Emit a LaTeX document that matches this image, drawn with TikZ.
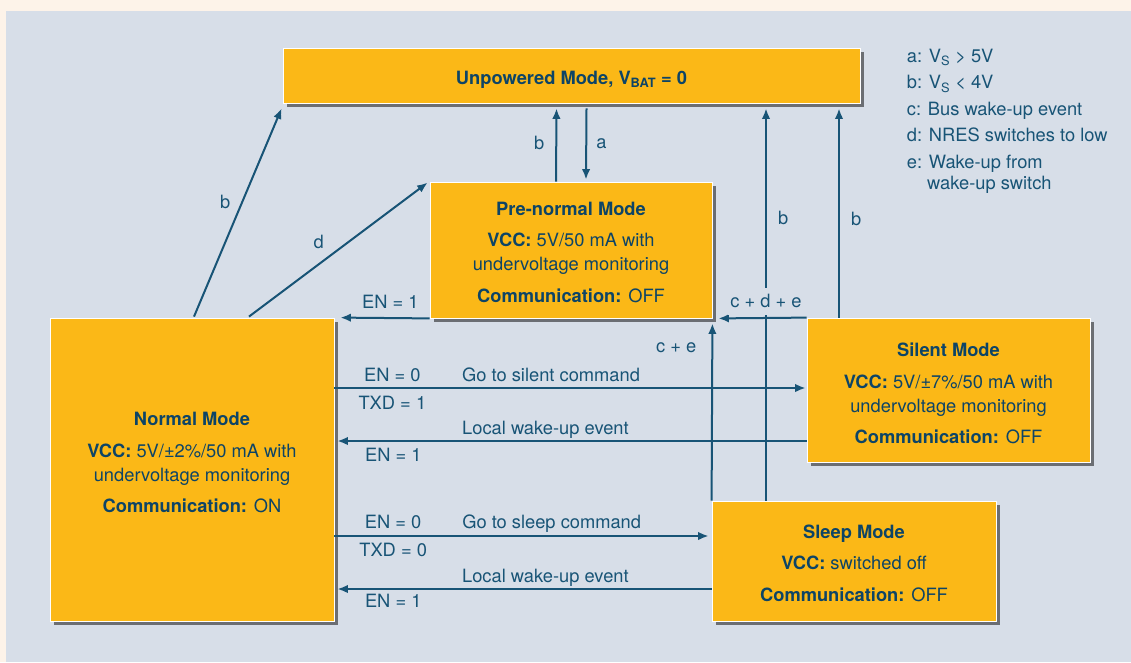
\documentclass[tikz,border=0pt]{standalone}
\usepackage{fontspec}
\setmainfont{TeX Gyre Heros}
\usepackage{xcolor}
\usetikzlibrary{arrows.meta,shadows}
\definecolor{panelGray}{RGB}{215,222,232}
\definecolor{creamBg}{RGB}{253,243,233}
\definecolor{modeOrange}{RGB}{251,184,23}
\definecolor{modeBlue}{RGB}{13,68,102}
\definecolor{lineBlue}{RGB}{24,84,118}

\begin{document}
\begin{tikzpicture}[x=1pt,y=-1pt,>={Latex[length=10.5pt,width=8.5pt]}]
  \tikzstyle{modetext}=[align=center,inner sep=0pt,text=modeBlue,font=\fontsize{18.3}{24}\selectfont]
  \tikzstyle{mode}=[rectangle,fill=modeOrange,draw=white,line width=.8pt,inner sep=0pt,drop shadow={shadow xshift=3.5pt,shadow yshift=-3.5pt,opacity=.5,fill=black}]
  \tikzstyle{trans}=[->,draw=lineBlue,line width=2pt]
  \tikzstyle{lbl}=[inner sep=0pt,text=lineBlue,font=\fontsize{18.3}{22}\selectfont]

  \useasboundingbox (0,0) rectangle (1131,662);
  \fill[creamBg] (0,0) rectangle (1131,662);
  \fill[panelGray] (6,11) rectangle (1131,662);

  % mode boxes
  \node[mode,minimum width=577,minimum height=55] (unpowered) at (571.5,75.5) {};
  \node[mode,minimum width=282,minimum height=136] (prenormal) at (571,250) {};
  \node[mode,minimum width=284,minimum height=303] (normal) at (192,469.5) {};
  \node[mode,minimum width=283,minimum height=144] (silent) at (948.5,390) {};
  \node[mode,minimum width=284,minimum height=120] (sleep) at (854,561) {};

  \node[modetext] (unpoweredtext) at ([shift={(0,4)}]unpowered.center)
    {\textbf{Unpowered Mode, V\textsubscript{BAT} = 0}};
  \node[modetext] (prenormaltext) at ([shift={(0,2)}]prenormal.center)
    {\textbf{Pre-normal Mode}\\[7.5pt]\textbf{VCC:} 5V/50 mA with\\undervoltage monitoring\\[7.5pt]\textbf{Communication:} OFF};
  \node[modetext] (normaltext) at ([shift={(0,-7)}]normal.center)
    {\textbf{Normal Mode}\\[7.5pt]\textbf{VCC:} 5V/±2\%/50 mA with\\undervoltage monitoring\\[7.5pt]\textbf{Communication:} ON};
  \node[modetext] (silenttext) at ([shift={(0,3.5)}]silent.center)
    {\textbf{Silent Mode}\\[7.5pt]\textbf{VCC:} 5V/±7\%/50 mA with\\undervoltage monitoring\\[7.5pt]\textbf{Communication:} OFF};
  \node[modetext] (sleeptext) at ([shift={(0,2)}]sleep.center)
    {\textbf{Sleep Mode}\\[7.5pt]\textbf{VCC:} switched off\\[7.5pt]\textbf{Communication:} OFF};

  % legend
  \node[lbl,anchor=north west,align=left,font=\fontsize{18.3}{21}\selectfont] (legend) at (906.7,48.5)
    {a: V\textsubscript{S} > 5V\\[5.5pt]b: V\textsubscript{S} < 4V\\[5.5pt]c: Bus wake-up event\\[5.5pt]d: NRES switches to low\\[5.5pt]e: Wake-up from\\\hspace*{20.3pt}wake-up switch};

  % power loss and power up
  \draw[trans] ([shift={(2,-1)}]normal.north) -- node[lbl,pos=.55,left=11pt] {b} ([shift={(-1,5)}]unpowered.south west);
  \draw[trans] ([shift={(57,-1)}]normal.north) -- node[lbl,pos=.39,above=15pt] {d} ([shift={(-2,1)}]prenormal.north west);
  \draw[trans] ([shift={(-15,0)}]prenormal.north) -- node[lbl,pos=.53,left=11pt] {b} ([shift={(-15,5)}]unpowered.south);
  \draw[trans] ([shift={(15,5)}]unpowered.south) -- node[lbl,pos=.49,right=9pt] {a} ([shift={(15,-2)}]prenormal.north);
  \draw[trans] ([shift={(-88,0)}]sleep.north) -- node[lbl,pos=.72,right=11pt] {b} ([shift={(194.5,5)}]unpowered.south);
  \draw[trans] ([shift={(-109.5,0)}]silent.north) -- node[lbl,pos=.47,right=11pt] {b} ([shift={(267.5,5)}]unpowered.south);

  % wake-up to pre-normal
  \draw[trans] (prenormal.south west) -- node[lbl,pos=.44,anchor=base,yshift=9.5pt] {EN = 1} ([shift={(6,0)}]normal.north east);
  \draw[trans] (silent.north west) -- node[lbl,pos=.46,anchor=base,yshift=10pt,fill=panelGray,inner ysep=7pt,inner xsep=2pt] {c + d + e} ([shift={(6,0)}]prenormal.south east);
  \draw[trans] (sleep.north west) -- node[lbl,pos=.865,left=15pt] {c + e} ([shift={(0,5)}]prenormal.south east);

  % normal <-> silent
  \coordinate (toSilent) at ([shift={(-1,-2)}]silent.west);
  \coordinate (fromSilent) at ([shift={(0,51)}]silent.west);
  \draw[trans] (normal.east |- toSilent) -- node[lbl,pos=.123,anchor=base,yshift=7pt] {EN = 0}
    node[lbl,pos=.269,anchor=base west,yshift=7pt] {Go to silent command}
    node[lbl,pos=.123,anchor=base,yshift=-21pt] {TXD = 1} (toSilent);
  \draw[trans,shorten >=3pt] (fromSilent) -- node[lbl,pos=.7315,anchor=base west,yshift=7pt] {Local wake-up event}
    node[lbl,pos=.875,anchor=base,yshift=-20pt] {EN = 1} (normal.east |- fromSilent);

  % normal <-> sleep
  \coordinate (toSleep) at ([shift={(-3,-25)}]sleep.west);
  \coordinate (fromSleep) at ([shift={(0,28)}]sleep.west);
  \draw[trans] (normal.east |- toSleep) -- node[lbl,pos=.157,anchor=base,yshift=8pt] {EN = 0}
    node[lbl,pos=.339,anchor=base west,yshift=8pt] {Go to sleep command}
    node[lbl,pos=.157,anchor=base,yshift=-20pt] {TXD = 0} (toSleep);
  \draw[trans,shorten >=3pt] (fromSleep) -- node[lbl,pos=.664,anchor=base west,yshift=7pt] {Local wake-up event}
    node[lbl,pos=.844,anchor=base,yshift=-18pt] {EN = 1} (normal.east |- fromSleep);
\end{tikzpicture}
\end{document}
